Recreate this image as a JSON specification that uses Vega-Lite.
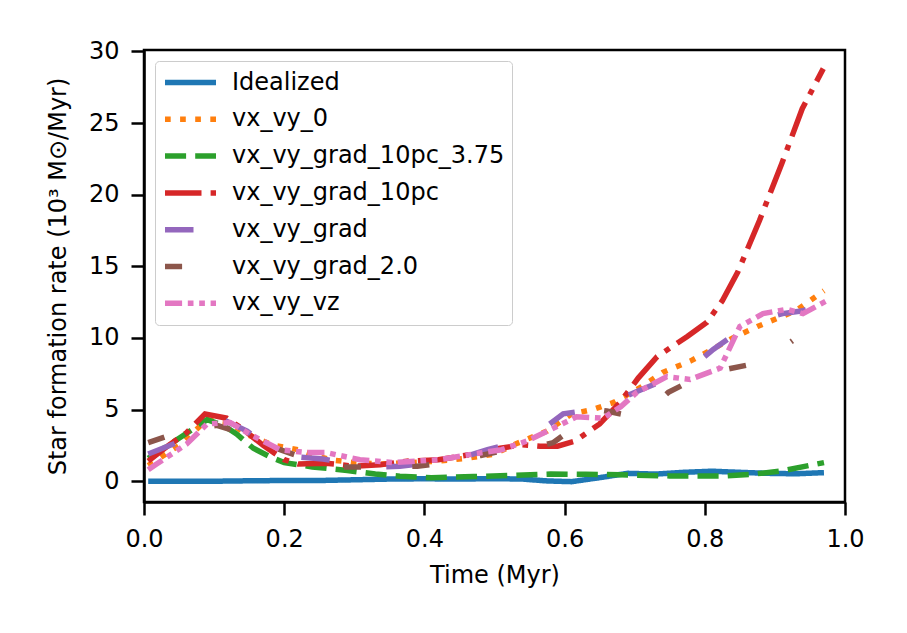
{
  "$schema": "https://vega.github.io/schema/vega-lite/v6.json",
  "description": "Star formation rate against time for seven simulation runs.",
  "width": 701,
  "height": 452,
  "autosize": {"type": "none"},
  "padding": {"left": 144, "top": 50, "right": 62, "bottom": 131},
  "background": "white",
  "config": {
    "font": "DejaVu Sans",
    "view": {"stroke": "black", "strokeWidth": 2.5},
    "axis": {
      "grid": false,
      "domainColor": "black",
      "domainWidth": 2.5,
      "tickColor": "black",
      "tickWidth": 2.5,
      "tickSize": 13,
      "labelFont": "DejaVu Sans",
      "labelFontSize": 24,
      "labelColor": "black",
      "labelPadding": 12,
      "labelFlush": false,
      "titleFont": "DejaVu Sans",
      "titleFontSize": 24,
      "titleFontWeight": "normal",
      "titleColor": "black"
    }
  },
  "data": {
    "values": [
      {"run": "Idealized", "t": 0.006, "sfr": 0.0},
      {"run": "Idealized", "t": 0.05, "sfr": 0.0},
      {"run": "Idealized", "t": 0.1, "sfr": 0.0},
      {"run": "Idealized", "t": 0.15, "sfr": 0.03},
      {"run": "Idealized", "t": 0.2, "sfr": 0.05},
      {"run": "Idealized", "t": 0.25, "sfr": 0.05},
      {"run": "Idealized", "t": 0.3, "sfr": 0.1},
      {"run": "Idealized", "t": 0.35, "sfr": 0.15},
      {"run": "Idealized", "t": 0.4, "sfr": 0.17},
      {"run": "Idealized", "t": 0.45, "sfr": 0.15},
      {"run": "Idealized", "t": 0.5, "sfr": 0.18},
      {"run": "Idealized", "t": 0.54, "sfr": 0.15},
      {"run": "Idealized", "t": 0.575, "sfr": 0.02},
      {"run": "Idealized", "t": 0.61, "sfr": -0.03},
      {"run": "Idealized", "t": 0.65, "sfr": 0.25},
      {"run": "Idealized", "t": 0.69, "sfr": 0.55},
      {"run": "Idealized", "t": 0.73, "sfr": 0.5},
      {"run": "Idealized", "t": 0.77, "sfr": 0.62},
      {"run": "Idealized", "t": 0.81, "sfr": 0.7},
      {"run": "Idealized", "t": 0.85, "sfr": 0.62},
      {"run": "Idealized", "t": 0.89, "sfr": 0.55},
      {"run": "Idealized", "t": 0.93, "sfr": 0.52},
      {"run": "Idealized", "t": 0.97, "sfr": 0.6},

      {"run": "vx_vy_0", "t": 0.006, "sfr": 1.1},
      {"run": "vx_vy_0", "t": 0.05, "sfr": 2.5},
      {"run": "vx_vy_0", "t": 0.09, "sfr": 4.3},
      {"run": "vx_vy_0", "t": 0.12, "sfr": 4.1},
      {"run": "vx_vy_0", "t": 0.15, "sfr": 3.2},
      {"run": "vx_vy_0", "t": 0.185, "sfr": 2.5},
      {"run": "vx_vy_0", "t": 0.22, "sfr": 2.2},
      {"run": "vx_vy_0", "t": 0.265, "sfr": 1.5},
      {"run": "vx_vy_0", "t": 0.3, "sfr": 1.3},
      {"run": "vx_vy_0", "t": 0.34, "sfr": 1.2},
      {"run": "vx_vy_0", "t": 0.38, "sfr": 1.3},
      {"run": "vx_vy_0", "t": 0.42, "sfr": 1.4},
      {"run": "vx_vy_0", "t": 0.46, "sfr": 1.6},
      {"run": "vx_vy_0", "t": 0.5, "sfr": 1.9},
      {"run": "vx_vy_0", "t": 0.53, "sfr": 2.6},
      {"run": "vx_vy_0", "t": 0.575, "sfr": 3.5},
      {"run": "vx_vy_0", "t": 0.61, "sfr": 4.7},
      {"run": "vx_vy_0", "t": 0.64, "sfr": 5.0},
      {"run": "vx_vy_0", "t": 0.67, "sfr": 5.5},
      {"run": "vx_vy_0", "t": 0.71, "sfr": 6.6},
      {"run": "vx_vy_0", "t": 0.74, "sfr": 7.6},
      {"run": "vx_vy_0", "t": 0.78, "sfr": 8.4},
      {"run": "vx_vy_0", "t": 0.81, "sfr": 9.2},
      {"run": "vx_vy_0", "t": 0.84, "sfr": 10.0},
      {"run": "vx_vy_0", "t": 0.875, "sfr": 10.8},
      {"run": "vx_vy_0", "t": 0.93, "sfr": 11.9},
      {"run": "vx_vy_0", "t": 0.97, "sfr": 13.3},

      {"run": "vx_vy_grad_10pc_3.75", "t": 0.006, "sfr": 1.6},
      {"run": "vx_vy_grad_10pc_3.75", "t": 0.05, "sfr": 3.0},
      {"run": "vx_vy_grad_10pc_3.75", "t": 0.09, "sfr": 4.3},
      {"run": "vx_vy_grad_10pc_3.75", "t": 0.113, "sfr": 3.9},
      {"run": "vx_vy_grad_10pc_3.75", "t": 0.132, "sfr": 3.3},
      {"run": "vx_vy_grad_10pc_3.75", "t": 0.156, "sfr": 2.3},
      {"run": "vx_vy_grad_10pc_3.75", "t": 0.18, "sfr": 1.7},
      {"run": "vx_vy_grad_10pc_3.75", "t": 0.2, "sfr": 1.3},
      {"run": "vx_vy_grad_10pc_3.75", "t": 0.24, "sfr": 1.0},
      {"run": "vx_vy_grad_10pc_3.75", "t": 0.29, "sfr": 0.75},
      {"run": "vx_vy_grad_10pc_3.75", "t": 0.33, "sfr": 0.5},
      {"run": "vx_vy_grad_10pc_3.75", "t": 0.365, "sfr": 0.35},
      {"run": "vx_vy_grad_10pc_3.75", "t": 0.41, "sfr": 0.25},
      {"run": "vx_vy_grad_10pc_3.75", "t": 0.47, "sfr": 0.33},
      {"run": "vx_vy_grad_10pc_3.75", "t": 0.52, "sfr": 0.4},
      {"run": "vx_vy_grad_10pc_3.75", "t": 0.58, "sfr": 0.5},
      {"run": "vx_vy_grad_10pc_3.75", "t": 0.63, "sfr": 0.48},
      {"run": "vx_vy_grad_10pc_3.75", "t": 0.68, "sfr": 0.45},
      {"run": "vx_vy_grad_10pc_3.75", "t": 0.75, "sfr": 0.37},
      {"run": "vx_vy_grad_10pc_3.75", "t": 0.83, "sfr": 0.37},
      {"run": "vx_vy_grad_10pc_3.75", "t": 0.87, "sfr": 0.5},
      {"run": "vx_vy_grad_10pc_3.75", "t": 0.91, "sfr": 0.72},
      {"run": "vx_vy_grad_10pc_3.75", "t": 0.97, "sfr": 1.3},

      {"run": "vx_vy_grad_10pc", "t": 0.006, "sfr": 1.4},
      {"run": "vx_vy_grad_10pc", "t": 0.035, "sfr": 2.5},
      {"run": "vx_vy_grad_10pc", "t": 0.061, "sfr": 3.4},
      {"run": "vx_vy_grad_10pc", "t": 0.087, "sfr": 4.7},
      {"run": "vx_vy_grad_10pc", "t": 0.118, "sfr": 4.4},
      {"run": "vx_vy_grad_10pc", "t": 0.142, "sfr": 3.6},
      {"run": "vx_vy_grad_10pc", "t": 0.17, "sfr": 2.5},
      {"run": "vx_vy_grad_10pc", "t": 0.2, "sfr": 1.5},
      {"run": "vx_vy_grad_10pc", "t": 0.22, "sfr": 1.2},
      {"run": "vx_vy_grad_10pc", "t": 0.26, "sfr": 1.25},
      {"run": "vx_vy_grad_10pc", "t": 0.3, "sfr": 1.05},
      {"run": "vx_vy_grad_10pc", "t": 0.337, "sfr": 1.15},
      {"run": "vx_vy_grad_10pc", "t": 0.375, "sfr": 1.4},
      {"run": "vx_vy_grad_10pc", "t": 0.42, "sfr": 1.5},
      {"run": "vx_vy_grad_10pc", "t": 0.47, "sfr": 1.9},
      {"run": "vx_vy_grad_10pc", "t": 0.508, "sfr": 2.3},
      {"run": "vx_vy_grad_10pc", "t": 0.54, "sfr": 2.55},
      {"run": "vx_vy_grad_10pc", "t": 0.565, "sfr": 2.45},
      {"run": "vx_vy_grad_10pc", "t": 0.59, "sfr": 2.45},
      {"run": "vx_vy_grad_10pc", "t": 0.615, "sfr": 2.8},
      {"run": "vx_vy_grad_10pc", "t": 0.65, "sfr": 4.0},
      {"run": "vx_vy_grad_10pc", "t": 0.679, "sfr": 5.5},
      {"run": "vx_vy_grad_10pc", "t": 0.705, "sfr": 7.2},
      {"run": "vx_vy_grad_10pc", "t": 0.732, "sfr": 8.7},
      {"run": "vx_vy_grad_10pc", "t": 0.775, "sfr": 10.1},
      {"run": "vx_vy_grad_10pc", "t": 0.803, "sfr": 11.1},
      {"run": "vx_vy_grad_10pc", "t": 0.825, "sfr": 12.6},
      {"run": "vx_vy_grad_10pc", "t": 0.847, "sfr": 14.6},
      {"run": "vx_vy_grad_10pc", "t": 0.878, "sfr": 18.2},
      {"run": "vx_vy_grad_10pc", "t": 0.91, "sfr": 22.2},
      {"run": "vx_vy_grad_10pc", "t": 0.939, "sfr": 26.0},
      {"run": "vx_vy_grad_10pc", "t": 0.969, "sfr": 28.8},

      {"run": "vx_vy_grad", "t": 0.006, "sfr": 1.9},
      {"run": "vx_vy_grad", "t": 0.047, "sfr": 2.7},
      {"run": "vx_vy_grad", "t": 0.08, "sfr": 3.8},
      {"run": "vx_vy_grad", "t": 0.113, "sfr": 4.3},
      {"run": "vx_vy_grad", "t": 0.147, "sfr": 3.5},
      {"run": "vx_vy_grad", "t": 0.18, "sfr": 2.3},
      {"run": "vx_vy_grad", "t": 0.218, "sfr": 1.7},
      {"run": "vx_vy_grad", "t": 0.255, "sfr": 1.55},
      {"run": "vx_vy_grad", "t": 0.3, "sfr": 1.2},
      {"run": "vx_vy_grad", "t": 0.337, "sfr": 1.0},
      {"run": "vx_vy_grad", "t": 0.365, "sfr": 1.05},
      {"run": "vx_vy_grad", "t": 0.41, "sfr": 1.3},
      {"run": "vx_vy_grad", "t": 0.46, "sfr": 1.75},
      {"run": "vx_vy_grad", "t": 0.49, "sfr": 2.2},
      {"run": "vx_vy_grad", "t": 0.53, "sfr": 2.7},
      {"run": "vx_vy_grad", "t": 0.568, "sfr": 3.6},
      {"run": "vx_vy_grad", "t": 0.598, "sfr": 4.7},
      {"run": "vx_vy_grad", "t": 0.64, "sfr": 5.0},
      {"run": "vx_vy_grad", "t": 0.676, "sfr": 5.7},
      {"run": "vx_vy_grad", "t": 0.71, "sfr": 6.4},
      {"run": "vx_vy_grad", "t": 0.75, "sfr": 7.2},
      {"run": "vx_vy_grad", "t": 0.783, "sfr": 8.0},
      {"run": "vx_vy_grad", "t": 0.812, "sfr": 9.2},
      {"run": "vx_vy_grad", "t": 0.85, "sfr": 10.5},
      {"run": "vx_vy_grad", "t": 0.879, "sfr": 11.3},
      {"run": "vx_vy_grad", "t": 0.911, "sfr": 11.7},
      {"run": "vx_vy_grad", "t": 0.94, "sfr": 11.9},
      {"run": "vx_vy_grad", "t": 0.97, "sfr": 12.4},

      {"run": "vx_vy_grad_2.0", "t": 0.006, "sfr": 2.7},
      {"run": "vx_vy_grad_2.0", "t": 0.03, "sfr": 3.1},
      {"run": "vx_vy_grad_2.0", "t": 0.06, "sfr": 3.6},
      {"run": "vx_vy_grad_2.0", "t": 0.104, "sfr": 3.9},
      {"run": "vx_vy_grad_2.0", "t": 0.13, "sfr": 3.5},
      {"run": "vx_vy_grad_2.0", "t": 0.16, "sfr": 2.8},
      {"run": "vx_vy_grad_2.0", "t": 0.194, "sfr": 2.2},
      {"run": "vx_vy_grad_2.0", "t": 0.23, "sfr": 1.6},
      {"run": "vx_vy_grad_2.0", "t": 0.26, "sfr": 1.2},
      {"run": "vx_vy_grad_2.0", "t": 0.284, "sfr": 1.0},
      {"run": "vx_vy_grad_2.0", "t": 0.33, "sfr": 1.0},
      {"run": "vx_vy_grad_2.0", "t": 0.39, "sfr": 1.05},
      {"run": "vx_vy_grad_2.0", "t": 0.43, "sfr": 1.3},
      {"run": "vx_vy_grad_2.0", "t": 0.48, "sfr": 1.8},
      {"run": "vx_vy_grad_2.0", "t": 0.52, "sfr": 2.2},
      {"run": "vx_vy_grad_2.0", "t": 0.565, "sfr": 2.45},
      {"run": "vx_vy_grad_2.0", "t": 0.584, "sfr": 2.7},
      {"run": "vx_vy_grad_2.0", "t": 0.615, "sfr": 3.8},
      {"run": "vx_vy_grad_2.0", "t": 0.646, "sfr": 5.0},
      {"run": "vx_vy_grad_2.0", "t": 0.66, "sfr": 4.9},
      {"run": "vx_vy_grad_2.0", "t": 0.69, "sfr": 4.6},
      {"run": "vx_vy_grad_2.0", "t": 0.732, "sfr": 5.5},
      {"run": "vx_vy_grad_2.0", "t": 0.748, "sfr": 6.2},
      {"run": "vx_vy_grad_2.0", "t": 0.78, "sfr": 7.0},
      {"run": "vx_vy_grad_2.0", "t": 0.82, "sfr": 7.7},
      {"run": "vx_vy_grad_2.0", "t": 0.86, "sfr": 8.1},
      {"run": "vx_vy_grad_2.0", "t": 0.9, "sfr": 8.9},
      {"run": "vx_vy_grad_2.0", "t": 0.925, "sfr": 9.8},

      {"run": "vx_vy_vz", "t": 0.006, "sfr": 0.8},
      {"run": "vx_vy_vz", "t": 0.018, "sfr": 1.2},
      {"run": "vx_vy_vz", "t": 0.061, "sfr": 2.6},
      {"run": "vx_vy_vz", "t": 0.09, "sfr": 4.0},
      {"run": "vx_vy_vz", "t": 0.123, "sfr": 4.1},
      {"run": "vx_vy_vz", "t": 0.15, "sfr": 3.3},
      {"run": "vx_vy_vz", "t": 0.194, "sfr": 2.2},
      {"run": "vx_vy_vz", "t": 0.232, "sfr": 2.0},
      {"run": "vx_vy_vz", "t": 0.26, "sfr": 2.0},
      {"run": "vx_vy_vz", "t": 0.308, "sfr": 1.5},
      {"run": "vx_vy_vz", "t": 0.355, "sfr": 1.3},
      {"run": "vx_vy_vz", "t": 0.42, "sfr": 1.5},
      {"run": "vx_vy_vz", "t": 0.47, "sfr": 1.9},
      {"run": "vx_vy_vz", "t": 0.51, "sfr": 2.2},
      {"run": "vx_vy_vz", "t": 0.546, "sfr": 2.8},
      {"run": "vx_vy_vz", "t": 0.58, "sfr": 3.6},
      {"run": "vx_vy_vz", "t": 0.617, "sfr": 4.5},
      {"run": "vx_vy_vz", "t": 0.655, "sfr": 4.4},
      {"run": "vx_vy_vz", "t": 0.68, "sfr": 5.2},
      {"run": "vx_vy_vz", "t": 0.703, "sfr": 6.2},
      {"run": "vx_vy_vz", "t": 0.746, "sfr": 7.3},
      {"run": "vx_vy_vz", "t": 0.779, "sfr": 7.1},
      {"run": "vx_vy_vz", "t": 0.822, "sfr": 7.9},
      {"run": "vx_vy_vz", "t": 0.85, "sfr": 10.8},
      {"run": "vx_vy_vz", "t": 0.883, "sfr": 11.7},
      {"run": "vx_vy_vz", "t": 0.917, "sfr": 12.0},
      {"run": "vx_vy_vz", "t": 0.94, "sfr": 11.7},
      {"run": "vx_vy_vz", "t": 0.974, "sfr": 12.6}
    ]
  },
  "mark": {"type": "line", "strokeWidth": 5.5, "strokeCap": "butt", "clip": true},
  "encoding": {
    "x": {
      "field": "t",
      "type": "quantitative",
      "title": "Time (Myr)",
      "scale": {"domain": [0, 1], "nice": false, "zero": false},
      "axis": {"values": [0, 0.2, 0.4, 0.6, 0.8, 1.0], "format": ".1f", "titlePadding": 12}
    },
    "y": {
      "field": "sfr",
      "type": "quantitative",
      "title": "Star formation rate (10³ M⊙/Myr)",
      "scale": {"domain": [-1.45, 30.1], "nice": false, "zero": false},
      "axis": {"values": [0, 5, 10, 15, 20, 25, 30], "format": "d", "titlePadding": 18}
    },
    "color": {
      "field": "run",
      "type": "nominal",
      "scale": {
        "domain": ["Idealized", "vx_vy_0", "vx_vy_grad_10pc_3.75", "vx_vy_grad_10pc", "vx_vy_grad", "vx_vy_grad_2.0", "vx_vy_vz"],
        "range": ["#1f77b4", "#ff7f0e", "#2ca02c", "#d62728", "#9467bd", "#8c564b", "#e377c2"]
      },
      "legend": {
        "title": null,
        "orient": "none",
        "legendX": 11,
        "legendY": 11,
        "symbolType": "stroke",
        "symbolSize": 2601,
        "symbolStrokeWidth": 5.5,
        "labelFont": "DejaVu Sans",
        "labelFontSize": 24,
        "labelColor": "black",
        "labelOffset": 13,
        "labelLimit": 400,
        "clipHeight": 29,
        "rowPadding": 7.8,
        "padding": 7,
        "strokeColor": "#cccccc",
        "fillColor": "rgba(255,255,255,0.8)",
        "cornerRadius": 4
      }
    },
    "strokeDash": {
      "field": "run",
      "type": "nominal",
      "scale": {
        "domain": ["Idealized", "vx_vy_0", "vx_vy_grad_10pc_3.75", "vx_vy_grad_10pc", "vx_vy_grad", "vx_vy_grad_2.0", "vx_vy_vz"],
        "range": [[1, 0], [5.7, 9.4], [21.1, 9.1], [36.5, 9.1, 5.7, 9.1], [28.5, 57], [17.1, 51.3], [17.1, 5.7, 5.7, 5.7, 5.7, 5.7]]
      },
      "legend": null
    }
  }
}
